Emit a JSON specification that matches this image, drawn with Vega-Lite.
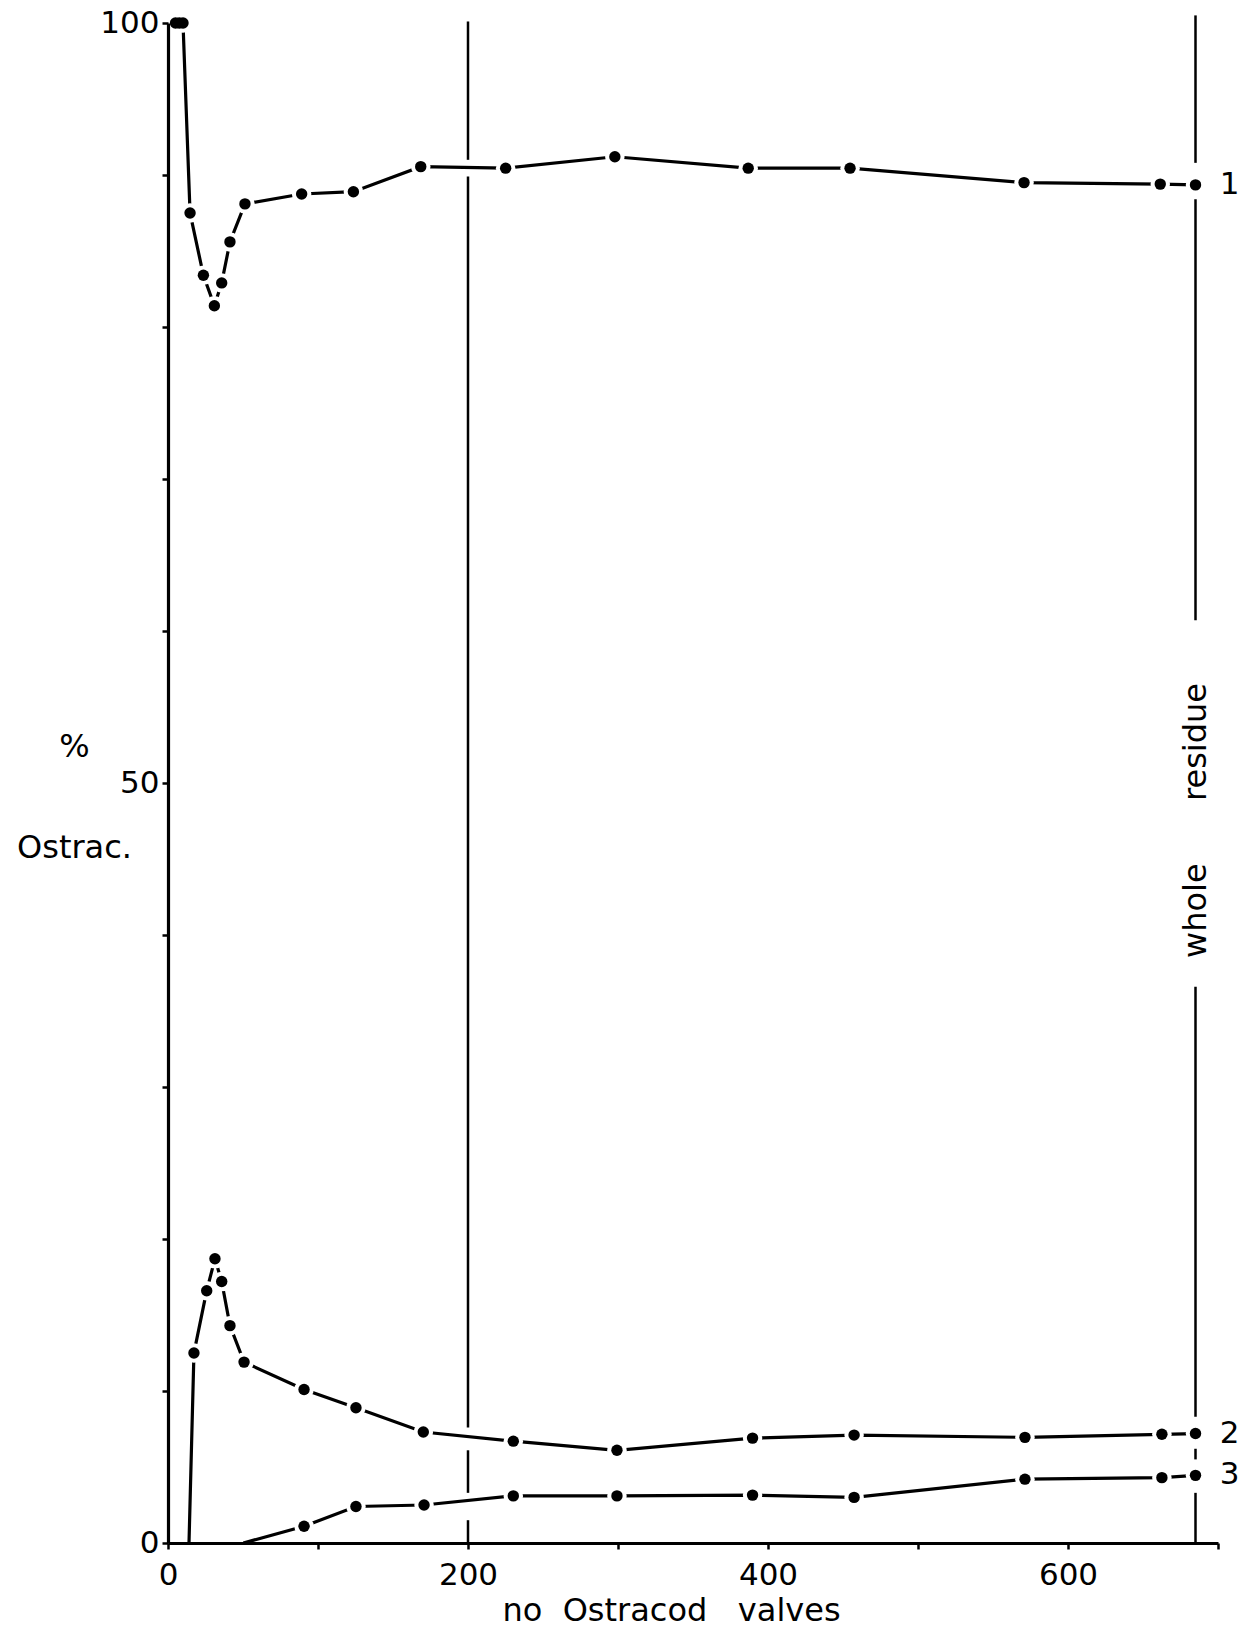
{
  "$schema": "https://vega.github.io/schema/vega-lite/v6.json",
  "width": 1050,
  "height": 1520,
  "autosize": {"type": "none"},
  "padding": {"left": 168, "top": 23, "right": 27, "bottom": 91},
  "background": "white",
  "config": {"view": {"stroke": null}, "font": "DejaVu Sans"},
  "datasets": {
    "series": [
      {"series": "1", "n": 5, "pct": 100},
      {"series": "1", "n": 7.5, "pct": 100},
      {"series": "1", "n": 10, "pct": 100},
      {"series": "1", "n": 14.7, "pct": 87.5},
      {"series": "1", "n": 23.6, "pct": 83.4},
      {"series": "1", "n": 30.9, "pct": 81.4},
      {"series": "1", "n": 35.8, "pct": 82.9},
      {"series": "1", "n": 41.3, "pct": 85.6},
      {"series": "1", "n": 51.3, "pct": 88.1},
      {"series": "1", "n": 89.1, "pct": 88.75},
      {"series": "1", "n": 123.6, "pct": 88.9},
      {"series": "1", "n": 168.5, "pct": 90.55},
      {"series": "1", "n": 225.1, "pct": 90.45},
      {"series": "1", "n": 297.9, "pct": 91.2},
      {"series": "1", "n": 386.8, "pct": 90.45},
      {"series": "1", "n": 454.7, "pct": 90.45},
      {"series": "1", "n": 570.7, "pct": 89.5},
      {"series": "1", "n": 661.5, "pct": 89.4},
      {"series": "1", "n": 685, "pct": 89.35},
      {"series": "2", "n": 14, "pct": 0},
      {"series": "2", "n": 17.3, "pct": 12.5},
      {"series": "2", "n": 25.8, "pct": 16.6},
      {"series": "2", "n": 31.3, "pct": 18.7},
      {"series": "2", "n": 35.8, "pct": 17.2},
      {"series": "2", "n": 41.3, "pct": 14.3},
      {"series": "2", "n": 50.7, "pct": 11.9},
      {"series": "2", "n": 90.7, "pct": 10.1},
      {"series": "2", "n": 125.3, "pct": 8.9},
      {"series": "2", "n": 170.2, "pct": 7.3},
      {"series": "2", "n": 230.2, "pct": 6.7},
      {"series": "2", "n": 299.3, "pct": 6.1},
      {"series": "2", "n": 389.7, "pct": 6.9},
      {"series": "2", "n": 457.4, "pct": 7.1},
      {"series": "2", "n": 571.3, "pct": 6.95},
      {"series": "2", "n": 662.6, "pct": 7.15},
      {"series": "2", "n": 685, "pct": 7.2},
      {"series": "3", "n": 50.2, "pct": 0},
      {"series": "3", "n": 90.7, "pct": 1.1},
      {"series": "3", "n": 125.3, "pct": 2.4},
      {"series": "3", "n": 170.7, "pct": 2.5},
      {"series": "3", "n": 230.2, "pct": 3.1},
      {"series": "3", "n": 299.3, "pct": 3.1},
      {"series": "3", "n": 389.7, "pct": 3.15},
      {"series": "3", "n": 457.4, "pct": 3.0},
      {"series": "3", "n": 571.3, "pct": 4.2},
      {"series": "3", "n": 662.6, "pct": 4.3},
      {"series": "3", "n": 685, "pct": 4.45}
    ],
    "rules": [
      {"n": 200, "lo": 0, "hi": 1.5},
      {"n": 200, "lo": 3.3, "hi": 6.1},
      {"n": 200, "lo": 7.6, "hi": 89.9},
      {"n": 200, "lo": 91.0, "hi": 100.1},
      {"n": 685, "lo": 0, "hi": 3.3},
      {"n": 685, "lo": 5.5, "hi": 6.2},
      {"n": 685, "lo": 8.3, "hi": 36.6},
      {"n": 685, "lo": 60.7, "hi": 88.4},
      {"n": 685, "lo": 90.8, "hi": 100.5}
    ],
    "notes": [
      {"n": 685, "pct": 52.7, "text": "residue"},
      {"n": 685, "pct": 41.6, "text": "whole"}
    ]
  },
  "layer": [
    {
      "data": {"name": "series"},
      "mark": {"type": "line", "stroke": "black", "strokeWidth": 3.2, "clip": false},
      "encoding": {
        "x": {
          "field": "n", "type": "quantitative",
          "scale": {"domain": [0, 700], "nice": false, "zero": true},
          "axis": {
            "values": [0, 100, 200, 300, 400, 500, 600, 700],
            "labelExpr": "datum.value % 200 == 0 ? datum.label : ''",
            "title": "no\u00a0\u00a0Ostracod\u00a0\u00a0\u00a0valves",
            "grid": false,
            "domainColor": "black", "domainWidth": 3.2,
            "tickColor": "black", "tickWidth": 2.5, "tickSize": 6,
            "labelFont": "DejaVu Sans", "labelFontSize": 31, "labelColor": "black",
            "labelPadding": 11, "labelFlush": false, "labelOverlap": false, "labelBound": false,
            "titleFont": "DejaVu Sans", "titleFontSize": 32, "titleFontWeight": "normal", "titleColor": "black",
            "titleX": 503, "titleY": 77, "titleAlign": "center", "titleBaseline": "alphabetic",
            "zindex": 1
          }
        },
        "y": {
          "field": "pct", "type": "quantitative",
          "scale": {"domain": [0, 100], "nice": false, "zero": true},
          "axis": {
            "values": [0, 10, 20, 30, 40, 50, 60, 70, 80, 90, 100],
            "labelExpr": "datum.value % 50 == 0 ? datum.label : ''",
            "title": ["%", "Ostrac."],
            "grid": false,
            "domainColor": "black", "domainWidth": 3.2,
            "tickColor": "black", "tickWidth": 2.5, "tickSize": 6,
            "labelFont": "DejaVu Sans", "labelFontSize": 31, "labelColor": "black",
            "labelPadding": 3, "labelFlush": false, "labelOverlap": false, "labelBound": false,
            "titleFont": "DejaVu Sans", "titleFontSize": 32, "titleFontWeight": "normal", "titleColor": "black",
            "titleAngle": 0, "titleAlign": "center", "titleBaseline": "top",
            "titleX": -94, "titleY": 708, "titleLineHeight": 101,
            "zindex": 1
          }
        },
        "detail": {"field": "series", "type": "nominal"}
      }
    },
    {
      "data": {"name": "rules"},
      "mark": {"type": "rule", "stroke": "black", "strokeWidth": 2.5, "clip": false},
      "encoding": {
        "x": {"field": "n", "type": "quantitative"},
        "y": {"field": "lo", "type": "quantitative"},
        "y2": {"field": "hi"}
      }
    },
    {
      "data": {"name": "series"},
      "transform": [{"filter": "datum.pct > 0"}],
      "mark": {"type": "point", "filled": true, "color": "white", "opacity": 1, "size": 380, "clip": false},
      "encoding": {
        "x": {"field": "n", "type": "quantitative"},
        "y": {"field": "pct", "type": "quantitative"}
      }
    },
    {
      "data": {"name": "series"},
      "transform": [{"filter": "datum.pct > 0"}],
      "mark": {"type": "point", "filled": true, "color": "black", "opacity": 1, "size": 130, "clip": false},
      "encoding": {
        "x": {"field": "n", "type": "quantitative"},
        "y": {"field": "pct", "type": "quantitative"}
      }
    },
    {
      "data": {"name": "series"},
      "transform": [{"filter": "datum.n == 685"}],
      "mark": {"type": "text", "font": "DejaVu Sans", "fontSize": 31, "color": "black", "align": "center", "baseline": "middle", "dx": 34, "clip": false},
      "encoding": {
        "x": {"field": "n", "type": "quantitative"},
        "y": {"field": "pct", "type": "quantitative"},
        "text": {"field": "series", "type": "nominal"}
      }
    },
    {
      "data": {"name": "notes"},
      "mark": {"type": "text", "font": "DejaVu Sans", "fontSize": 32, "color": "black", "align": "center", "baseline": "middle", "angle": 270, "clip": false},
      "encoding": {
        "x": {"field": "n", "type": "quantitative"},
        "y": {"field": "pct", "type": "quantitative"},
        "text": {"field": "text", "type": "nominal"}
      }
    }
  ]
}
